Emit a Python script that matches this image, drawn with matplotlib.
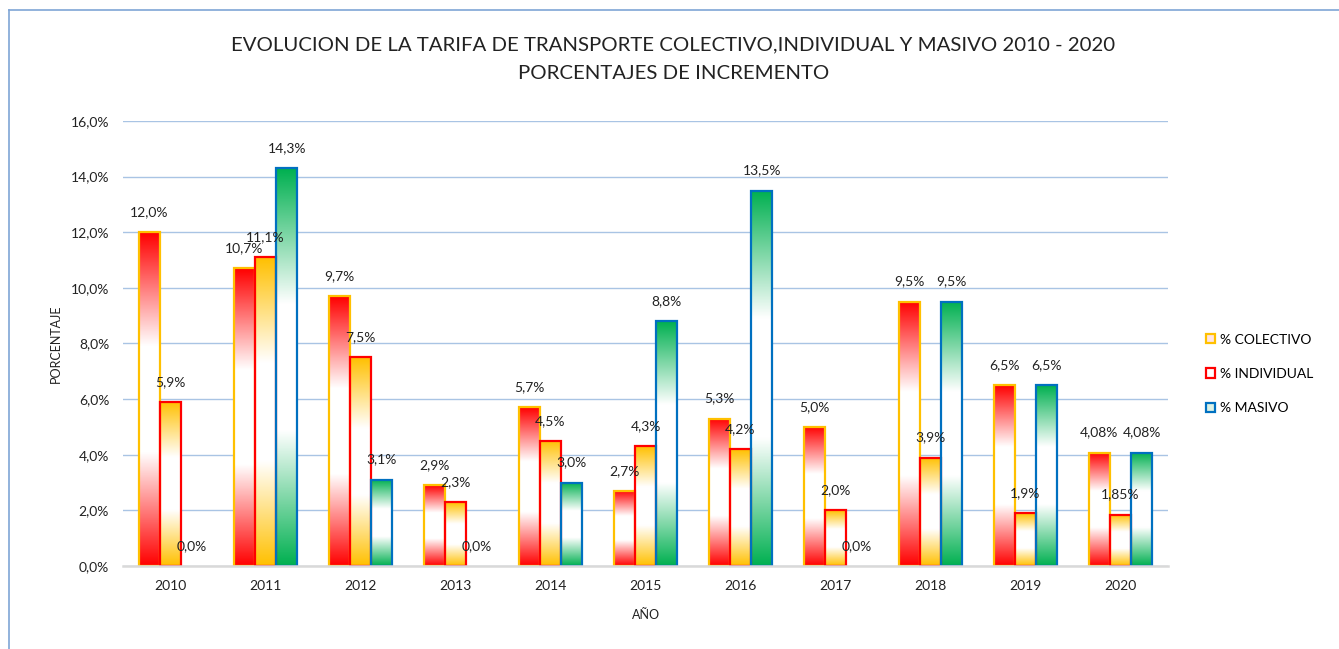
import matplotlib.pyplot as plt
import numpy as np
from matplotlib.colors import LinearSegmentedColormap
from matplotlib.patches import Patch
from matplotlib.lines import Line2D

plt.rcParams['font.family'] = ['Lato', 'DejaVu Sans']

years = ['2010', '2011', '2012', '2013', '2014', '2015', '2016', '2017', '2018', '2019', '2020']
colectivo = [12.0, 10.7, 9.7, 2.9, 5.7, 2.7, 5.3, 5.0, 9.5, 6.5, 4.08]
individual = [5.9, 11.1, 7.5, 2.3, 4.5, 4.3, 4.2, 2.0, 3.9, 1.9, 1.85]
masivo = [0.0, 14.3, 3.1, 0.0, 3.0, 8.8, 13.5, 0.0, 9.5, 6.5, 4.08]
colectivo_lbl = ['12,0%', '10,7%', '9,7%', '2,9%', '5,7%', '2,7%', '5,3%', '5,0%', '9,5%', '6,5%', '4,08%']
individual_lbl = ['5,9%', '11,1%', '7,5%', '2,3%', '4,5%', '4,3%', '4,2%', '2,0%', '3,9%', '1,9%', '1,85%']
masivo_lbl = ['0,0%', '14,3%', '3,1%', '0,0%', '3,0%', '8,8%', '13,5%', '0,0%', '9,5%', '6,5%', '4,08%']

series = [
    ('% COLECTIVO', colectivo, colectivo_lbl, '#FF0000', '#FFC000'),
    ('% INDIVIDUAL', individual, individual_lbl, '#FFC000', '#FF0000'),
    ('% MASIVO', masivo, masivo_lbl, '#00B050', '#0070C0'),
]

fig = plt.figure(figsize=(13.39, 6.49), dpi=100)
ax = fig.add_axes([0.0919, 0.1279, 0.7804, 0.6857])

x = np.arange(len(years))
w = 0.222
grad = np.linspace(0, 1, 256).reshape(-1, 1)

for i, (name, vals, lbls, fill, edge) in enumerate(series):
    # colour at both ends, white band in the middle of each bar
    cmap = LinearSegmentedColormap.from_list(
        name, [(0, fill), (0.34, '#FFFFFF'), (0.66, '#FFFFFF'), (1, fill)])
    pos = x + (i - 1) * w
    bars = ax.bar(pos, vals, width=w, facecolor='none', edgecolor=edge,
                  linewidth=1.6, zorder=3)
    for b in bars:
        h = b.get_height()
        if h > 0:
            x0 = b.get_x()
            im = ax.imshow(grad, extent=[x0, x0 + b.get_width(), 0, h],
                           aspect='auto', cmap=cmap, origin='lower', zorder=2)
            im.set_clip_path(b)
        else:
            b.set_linewidth(0)
    for p, v, t in zip(pos, vals, lbls):
        ax.annotate(t, (p, v), xytext=(0, 14.5), textcoords='offset points',
                    ha='center', va='center', fontsize=10, color='#222222', zorder=5)

ax.set_xlim(-0.5, len(years) - 0.5)
ax.set_ylim(0, 16)
ax.set_yticks(np.arange(0, 17, 2))
ax.set_yticklabels([f'{v:.1f}%'.replace('.', ',') for v in np.arange(0, 17, 2)])
ax.set_xticks(x)
ax.set_xticklabels(years)
ax.tick_params(length=0, labelsize=10, colors='#222222')
ax.tick_params(axis='y', pad=10)
ax.tick_params(axis='x', pad=10)
ax.grid(axis='y', color='#A9C4E4', linewidth=1)
ax.set_axisbelow(True)
for s in ['top', 'right', 'left']:
    ax.spines[s].set_visible(False)
ax.spines['bottom'].set_color('#D9D9D9')
ax.spines['bottom'].set_linewidth(1.8)
ax.spines['bottom'].set_zorder(4)

ax.set_ylabel('PORCENTAJE', fontsize=9, color='#222222', labelpad=6)
ax.set_xlabel('AÑO', fontsize=9, color='#222222', labelpad=12)

fig.text(0.503, 0.931, 'EVOLUCION DE LA TARIFA DE TRANSPORTE COLECTIVO,INDIVIDUAL Y MASIVO 2010 - 2020',
         ha='center', va='center', fontsize=14.7, color='#222222')
fig.text(0.503, 0.886, 'PORCENTAJES DE INCREMENTO', ha='center', va='center',
         fontsize=14.7, color='#222222')

handles = [Patch(facecolor='#FFE4E4', edgecolor='#FFC000', linewidth=1.6),
           Patch(facecolor='#FFFFFF', edgecolor='#FF0000', linewidth=1.6),
           Patch(facecolor='#DDF2E5', edgecolor='#0070C0', linewidth=1.6)]
fig.legend(handles, [s[0] for s in series], loc='center left',
           bbox_to_anchor=(0.891, 0.424), frameon=False, fontsize=10,
           handlelength=0.65, handleheight=0.65, handletextpad=0.4,
           labelspacing=1.6)

# chart frame (left and top edges visible)
fig.add_artist(Line2D([9 / 1339, 9 / 1339], [0, 1 - 10 / 649], color='#7FA5D6', linewidth=1.2))
fig.add_artist(Line2D([9 / 1339, 1], [1 - 10 / 649, 1 - 10 / 649], color='#7FA5D6', linewidth=1.2))

fig.savefig('out.png', dpi=100)
